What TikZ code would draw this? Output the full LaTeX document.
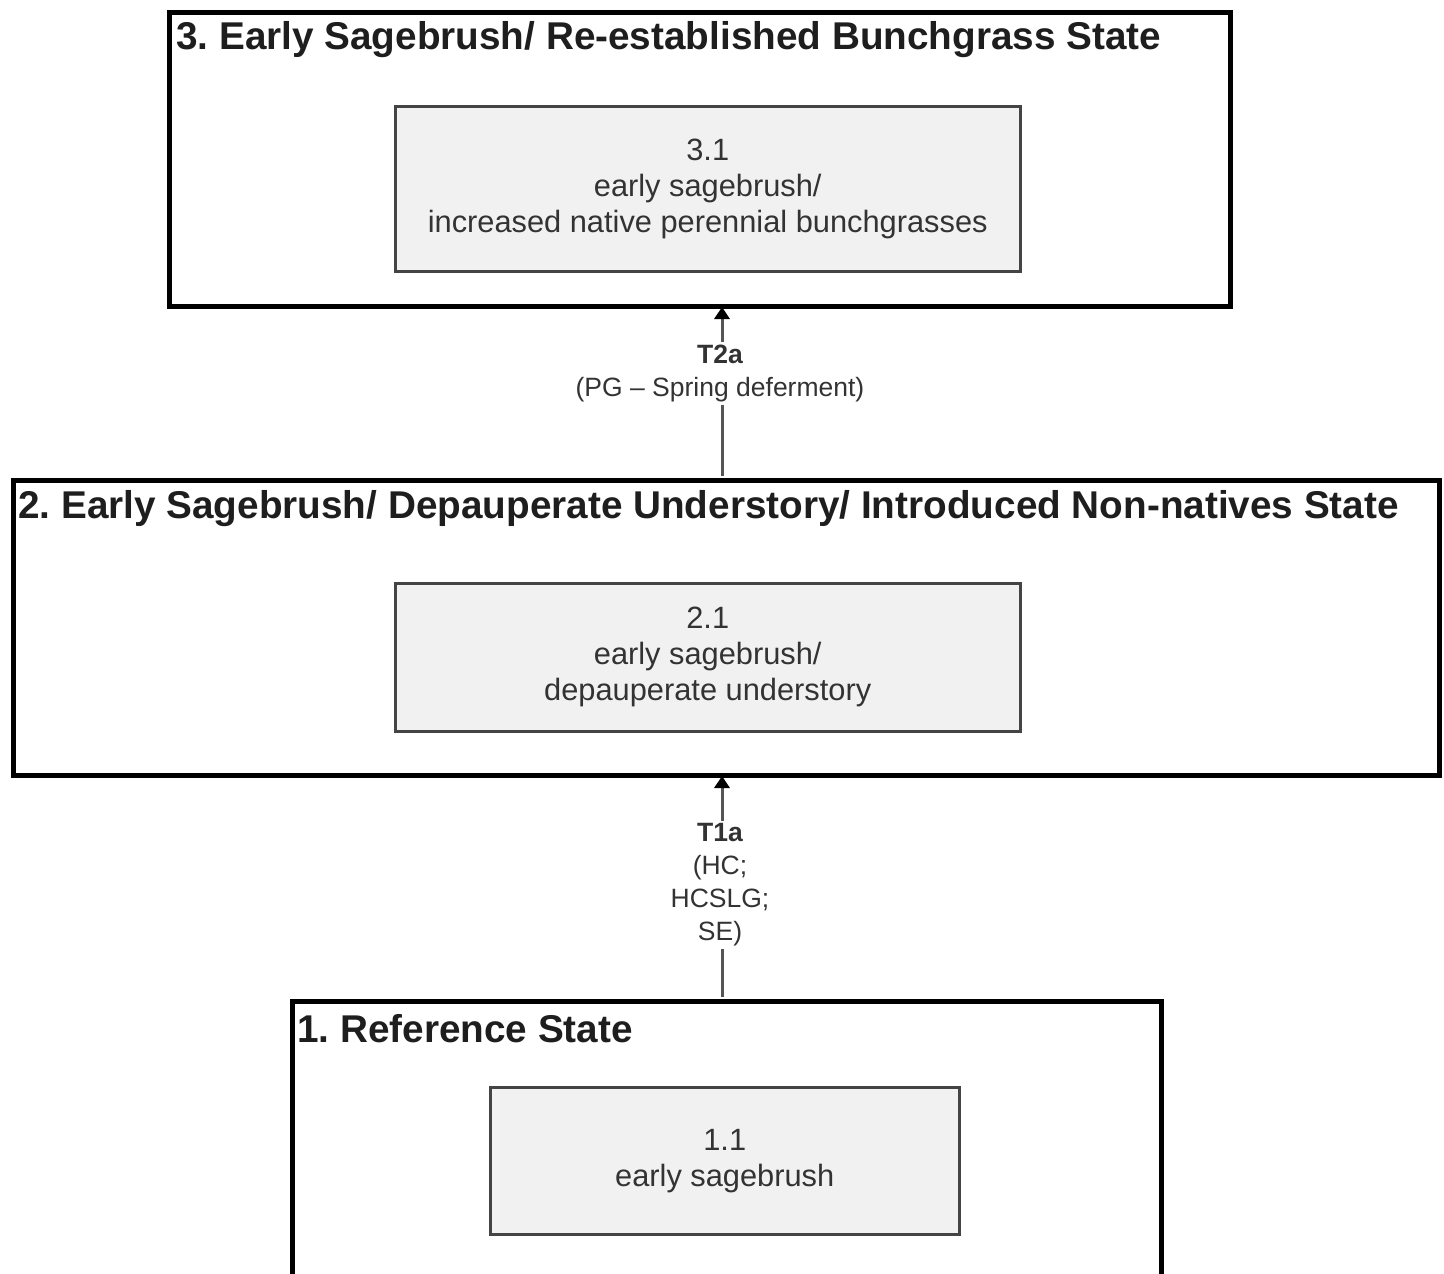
\documentclass[tikz,border=0pt]{standalone}
\usepackage{fontspec}
\setmainfont{Liberation Sans}
\frenchspacing
\usetikzlibrary{arrows.meta,positioning}
\definecolor{titlegray}{HTML}{1E1E1E}
\definecolor{textgray}{HTML}{333333}
\definecolor{innerfill}{HTML}{F1F1F1}
\definecolor{innerline}{HTML}{444444}
\definecolor{linkgray}{HTML}{555555}
\tikzset{
  statebox/.style={draw=black, line width=5pt, fill=white, inner sep=0pt, anchor=north west},
  phasebox/.style={draw=innerline, line width=2.5pt, fill=innerfill, inner sep=0pt, anchor=north west},
  statetitle/.style={anchor=west, inner sep=0pt, text=titlegray, font=\fontsize{38.7}{46}\selectfont\bfseries},
  phasetext/.style={anchor=center, inner sep=0pt, align=center, text=textgray, font=\fontsize{30.8}{36}\selectfont},
  trlabel/.style={fill=white, inner sep=3pt, align=center, text=textgray, font=\fontsize{26.5}{33}\selectfont},
  trarrow/.style={draw=linkgray, line width=3pt, -{Triangle[width=15pt,length=12pt,fill=black,color=black]}},
}
\begin{document}
\begin{tikzpicture}[x=1pt,y=-1pt]
\useasboundingbox[fill=white] (0,0) rectangle (1444,1274);
% state boxes
\node[statebox, minimum width=1061pt, minimum height=294pt] (s3) at (167,10) {};
\node[statebox, minimum width=1426pt, minimum height=295pt] (s2) at (11,478) {};
\node[statebox, minimum width=869pt, minimum height=300pt] (s1) at (290,999) {};
% titles
\node[statetitle] (t3) at (176,40) {3. Early Sagebrush/ Re-established Bunchgrass State};
\node[statetitle] (t2) at (18,509) {2. Early Sagebrush/ Depauperate Understory/ Introduced Non-natives State};
\node[statetitle] (t1) at (297,1029) {1. Reference State};
% phase boxes
\node[phasebox, minimum width=625pt, minimum height=165pt] (p31) at (394,105) {};
\node[phasetext] (p31t) at (p31.center) {3.1\\early sagebrush/\\increased native perennial bunchgrasses};
\node[phasebox, minimum width=625pt, minimum height=148pt] (p21) at (394,582) {};
\node[phasetext] (p21t) at (p21.center) {2.1\\early sagebrush/\\depauperate understory};
\node[phasebox, minimum width=469pt, minimum height=147pt] (p11) at (489,1086) {};
\node[phasetext] (p11t) at (p11.center) {1.1\\early sagebrush};
% transitions
\coordinate (a2s) at (722,476);
\coordinate (a2e) at (722,307);
\coordinate (a1s) at (722,997);
\coordinate (a1e) at (722,776);
\draw[trarrow] (a2s) -- (a2e);
\draw[trarrow] (a1s) -- (a1e);
\node[trlabel] (l2) at (720,373) {\textbf{T2a}\\(PG – Spring deferment)};
\node[trlabel] (l1) at (720,885) {\textbf{T1a}\\(HC;\\HCSLG;\\SE)};
\end{tikzpicture}
\end{document}
